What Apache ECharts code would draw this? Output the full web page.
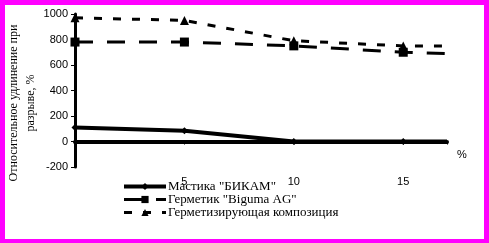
<!DOCTYPE html>
<html>
<head>
<meta charset="utf-8">
<script src="https://cdn.jsdelivr.net/npm/echarts@6/dist/echarts.min.js"></script>
<style>
html,body{margin:0;padding:0;background:#fff;}
#c{width:489px;height:243px;}
</style>
</head>
<body>
<div id="c"></div>
<script>
var xValues = [0, 5, 10, 15, 17];
var mastika = [110, 85, 0, 0, 0];
var biguma = [780, 780, 750, 700, 690];
var germ = [970, 950, 790, 750, 750];
var seriesNames = ['Мастика "БИКАМ"', 'Герметик "Biguma AG"', 'Герметизирующая композиция'];
var yTicks = [-200, 0, 200, 400, 600, 800, 1000];
var xTickLabels = [5, 10, 15];

function pts(vals) {
  return xValues.map(function (x, i) {
    var item = { value: [x, vals[i]] };
    if (i === xValues.length - 1) item.symbol = 'none';
    return item;
  });
}

var chart = echarts.init(document.getElementById('c'));
var serif = '"Liberation Serif", "DejaVu Serif", serif';
var sans = '"Liberation Sans", Arial, sans-serif';
chart.setOption({
  backgroundColor: '#fff',
  animation: false,
  grid: { left: 75, right: 42, top: 14, bottom: 76, containLabel: false },
  xAxis: {
    type: 'value', min: 0, max: 17, interval: 5,
    axisLine: { onZero: true, lineStyle: { color: '#000', width: 4 } },
    axisTick: { show: true, length: 3, lineStyle: { color: '#000', width: 1 } },
    axisLabel: {
      margin: 9, color: '#000', fontSize: 11, fontFamily: sans,
      formatter: function (v) { return xTickLabels.indexOf(v) >= 0 ? String(v) : ''; }
    },
    splitLine: { show: false }
  },
  yAxis: {
    type: 'value', min: yTicks[0], max: yTicks[yTicks.length - 1], interval: 200,
    axisLine: { show: true, onZero: false, lineStyle: { color: '#000', width: 3 } },
    axisTick: { show: true, length: 4, lineStyle: { color: '#000', width: 1 } },
    axisLabel: { margin: 7, color: '#000', fontSize: 11, fontFamily: sans,
      formatter: function (v) { return String(v); } },
    splitLine: { show: false }
  },
  legend: {
    orient: 'vertical', left: 122, top: 180, padding: 0,
    itemWidth: 42, itemHeight: 9, itemGap: 0,
    lineStyle: { width: 'inherit' },
    textStyle: { color: '#000', fontSize: 13, fontFamily: serif, lineHeight: 13, padding: [0, 0, 0, -3] },
    data: seriesNames
  },
  graphic: [
    { type: 'text', left: 457, top: 149, style: { text: '%', fill: '#000', font: '11px ' + sans } },
    { type: 'text', x: 22, y: 103, rotation: Math.PI / 2,
      style: { text: 'Относительное удлинение при\nразрыве, %', fill: '#000', font: '12px ' + serif,
        align: 'center', verticalAlign: 'middle', lineHeight: 17 } },
    { type: 'rect', shape: { x: 0, y: 0, width: 5, height: 243 }, style: { fill: '#FF00FF' } },
    { type: 'rect', shape: { x: 0, y: 0, width: 489, height: 5 }, style: { fill: '#FF00FF' } },
    { type: 'rect', shape: { x: 484, y: 0, width: 5, height: 243 }, style: { fill: '#FF00FF' } },
    { type: 'rect', shape: { x: 0, y: 239, width: 489, height: 4 }, style: { fill: '#FF00FF' } }
  ],
  series: [
    { name: seriesNames[0], type: 'line', data: pts(mastika), symbol: 'diamond', symbolSize: 7,
      lineStyle: { color: '#000', width: 4 }, itemStyle: { color: '#000' } },
    { name: seriesNames[1], type: 'line', data: pts(biguma), symbol: 'rect', symbolSize: 9,
      lineStyle: { color: '#000', width: 3, type: [18, 14] }, itemStyle: { color: '#000' } },
    { name: seriesNames[2], type: 'line', data: pts(germ), symbol: 'triangle', symbolSize: 9,
      lineStyle: { color: '#000', width: 3, type: [8, 11] }, itemStyle: { color: '#000' } }
  ]
});
</script>
</body>
</html>
